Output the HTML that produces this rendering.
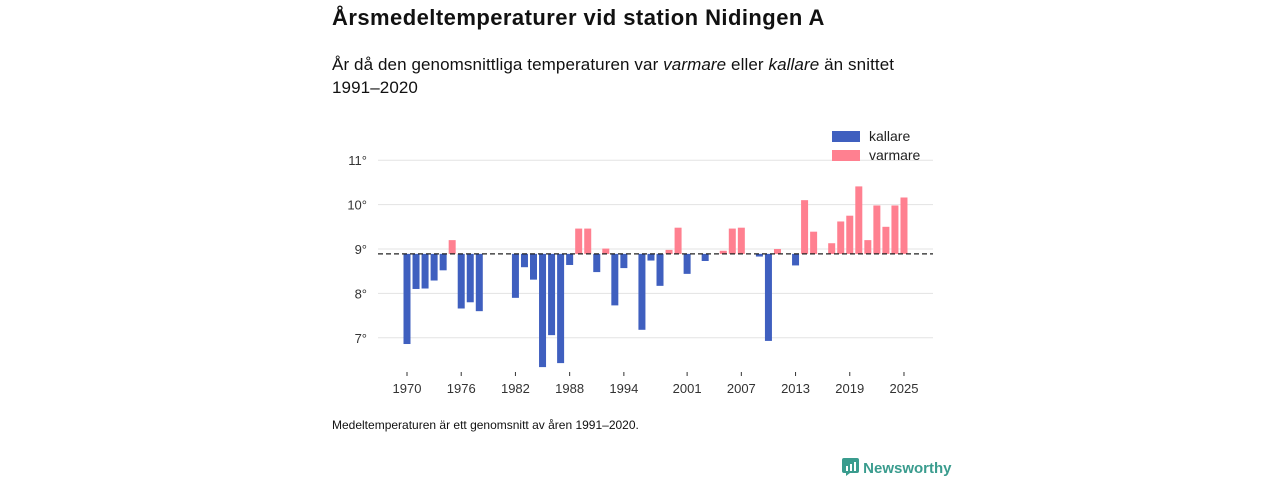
<!DOCTYPE html>
<html><head><meta charset="utf-8"><style>
body{margin:0;background:#fff;width:1280px;height:480px;overflow:hidden;font-family:"Liberation Sans","DejaVu Sans",sans-serif;color:#111;position:relative}
.t{position:absolute;left:332px;top:5px;font-size:22px;letter-spacing:0.45px;font-weight:bold;margin:0}
.s{position:absolute;left:332px;top:53px;font-size:17px;letter-spacing:0.1px;line-height:23px;width:600px}
.f{position:absolute;left:332px;top:418px;font-size:12px}
.logo{position:absolute;left:842px;top:458px;font-size:15px;color:#3a9c8e;font-weight:bold}
</style></head><body>
<h1 class="t">Årsmedeltemperaturer vid station Nidingen A</h1>
<div class="s">År då den genomsnittliga temperaturen var <i>varmare</i> eller <i>kallare</i> än snittet 1991–2020</div>
<svg id="c" width="1280" height="480" style="position:absolute;left:0;top:0"></svg>
<div class="f">Medeltemperaturen är ett genomsnitt av åren 1991–2020.</div>
<div class="logo"><svg width="17" height="18" style="vertical-align:-3px"><rect x="0" y="0" width="17" height="15" rx="2" fill="#3a9c8e"/><path d="M4 15 L4 18 L8 15Z" fill="#3a9c8e"/><rect x="4" y="8" width="2" height="5" fill="#fff"/><rect x="8" y="6" width="2" height="7" fill="#fff"/><rect x="12" y="4" width="2" height="9" fill="#fff"/></svg> Newsworthy</div>
<script>
const years=[1970,1971,1972,1973,1974,1975,1976,1977,1978,1982,1983,1984,1985,1986,1987,1988,1989,1990,1991,1992,1993,1994,1996,1997,1998,1999,2000,2001,2003,2005,2006,2007,2009,2010,2011,2013,2014,2015,2017,2018,2019,2020,2021,2022,2023,2024,2025];
const temps=[6.86,8.10,8.11,8.29,8.52,9.20,7.66,7.80,7.60,7.90,8.59,8.31,6.34,7.06,6.43,8.64,9.46,9.46,8.48,9.01,7.73,8.57,7.18,8.74,8.17,8.98,9.48,8.44,8.73,8.96,9.46,9.48,8.83,6.93,9.00,8.63,10.10,9.39,9.13,9.62,9.75,10.41,9.20,9.98,9.50,9.98,10.16];
const baseline=8.89;
const yTicks=[7,8,9,10,11];
const xTicks=[1970,1976,1982,1988,1994,2001,2007,2013,2019,2025];
const svg=document.getElementById('c');const NS='http://www.w3.org/2000/svg';
const X=y=>407+(y-1970)*9.036;const Y=v=>249-(v-9)*44.4;
function mk(t,a){const e=document.createElementNS(NS,t);for(const k in a)e.setAttribute(k,a[k]);svg.appendChild(e);return e;}
yTicks.forEach(v=>{const l=mk('line',{x1:378,x2:933,y1:Y(v),y2:Y(v),stroke:'#e3e3e3','stroke-width':1});


const t=mk('text',{x:367,y:Y(v)+5,'text-anchor':'end','font-size':13,fill:'#333'});t.textContent=v+'°';

});
years.forEach((yr,i)=>{const v=temps[i];const y0=Y(baseline),y1=Y(v);
const r=mk('rect',{x:X(yr)-3.5,y:Math.min(y0,y1),width:7,height:Math.abs(y1-y0),fill:v<baseline?'#3f5fbf':'#ff8090'});

});
const d=mk('line',{x1:378,x2:933,y1:Y(baseline),y2:Y(baseline),stroke:'#222','stroke-width':1.3,'stroke-dasharray':'5,3'});


xTicks.forEach(yr=>{mk('line',{x1:X(yr),x2:X(yr),y1:372,y2:376,stroke:'#333'});
const t=mk('text',{x:X(yr),y:393,'text-anchor':'middle','font-size':13,fill:'#333'});t.textContent=yr;

});
[['kallare','#3f5fbf',131],['varmare','#ff8090',150]].forEach(([n,c,y])=>{const r=mk('rect',{x:832,y:y,width:28,height:11,fill:c});


const t=mk('text',{x:869,y:y+10,'font-size':14,fill:'#222'});t.textContent=n;

});
</script>
</body></html>
